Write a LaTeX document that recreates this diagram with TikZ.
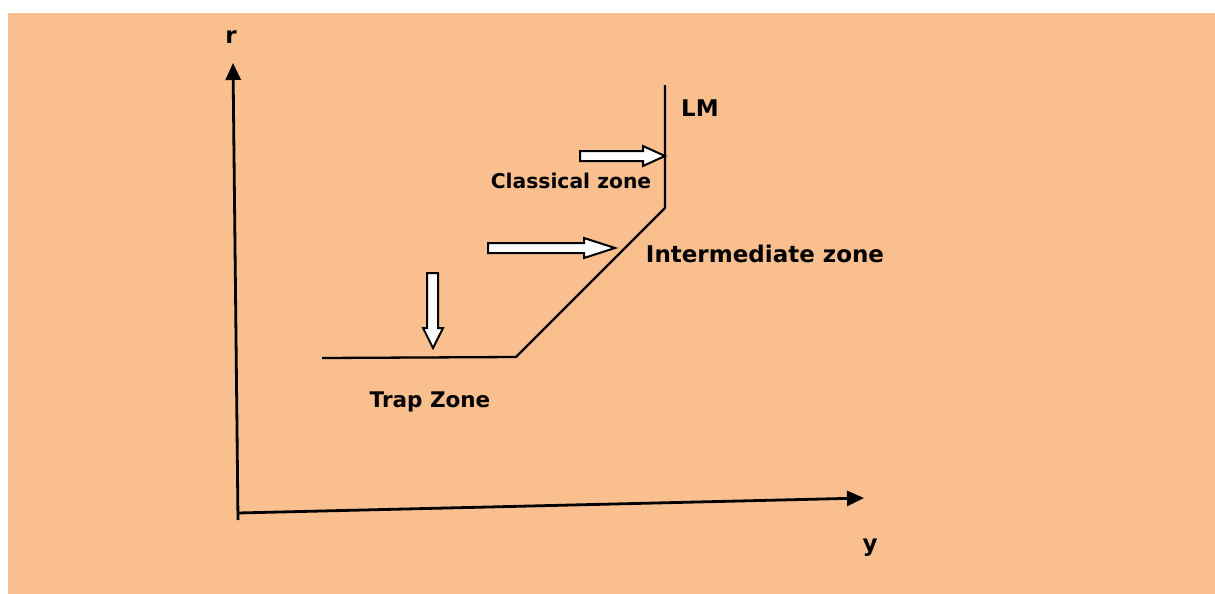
\documentclass[tikz,border=0pt]{standalone}
\usepackage{fontspec}
\setmainfont{DejaVu Sans}
\usetikzlibrary{arrows.meta}
\definecolor{peach}{RGB}{249,191,143}
\tikzset{
  axisline/.style={line width=2.8pt,-{Triangle[length=17pt,width=15pt]}},
  curve/.style={line width=2.3pt},
  blockarrow/.style={fill=white,draw=black,line width=2pt,line join=miter},
  lbl/.style={font=\bfseries\fontsize{23}{27}\selectfont,inner sep=0pt},
  smalllbl/.style={font=\bfseries\fontsize{20.3}{24}\selectfont,inner sep=0pt}
}
\begin{document}
\begin{tikzpicture}[x=1pt,y=-1pt]
\useasboundingbox (0,0) rectangle (1215,594);
\fill[peach] (8,13) rectangle (1215,594);
% axes
\coordinate (O) at (238,520);
\coordinate (rtip) at (233,63);
\coordinate (yorig) at (238,513);
\coordinate (ytip) at (864,498);
\draw[axisline] (O) -- (rtip);
\draw[axisline] (yorig) -- (ytip);
\node[lbl] (r) at (231,37) {r};
\node[lbl] (y) at (870,548) {y};
% LM curve
\coordinate (lmtop) at (665,85);
\coordinate (lmknee) at (665,208);
\coordinate (lmfoot) at (516,357);
\coordinate (lmleft) at (322,358);
\draw[curve] (lmtop) -- (lmknee) -- (lmfoot) -- (lmleft);
% block arrows
\draw[blockarrow] (580,151) -- (643,151) -- (643,146) -- (665,156) -- (643,166) -- (643,161) -- (580,161) -- cycle;
\draw[blockarrow] (488,243) -- (584,243) -- (584,238) -- (615,248) -- (584,258) -- (584,253) -- (488,253) -- cycle;
\draw[blockarrow] (427,273) -- (438,273) -- (438,328) -- (443,328) -- (433,348) -- (423,328) -- (427,328) -- cycle;
% labels
\node[lbl] (lm) at (700,108) {LM};
\node[smalllbl] (classical) at (571,181) {Classical zone};
\node[lbl] (inter) at (765,254) {Intermediate zone};
\node[font=\bfseries\fontsize{21.5}{25}\selectfont,inner sep=0pt] (trap) at (430,402) {Trap Zone};
\end{tikzpicture}
\end{document}
